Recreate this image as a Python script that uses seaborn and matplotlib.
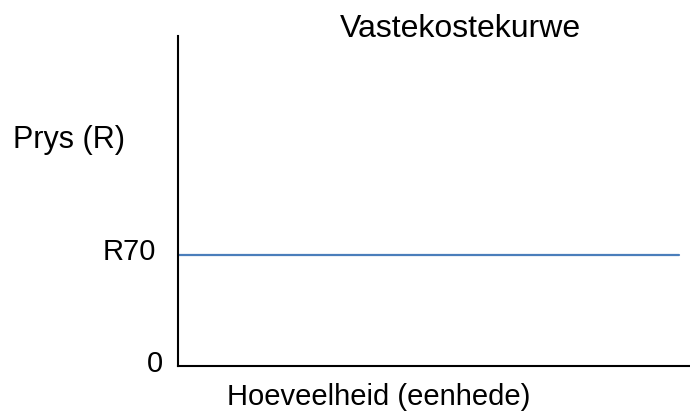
import matplotlib
matplotlib.use("Agg")
import matplotlib.pyplot as plt
import matplotlib.transforms as mtransforms
import seaborn as sns
import pandas as pd

# data
quantity = [0, 10]
fixed_cost = [70, 70]
ytick_vals = [0, 70]
ytick_labels = ["0", "R70"]
title = "Vastekostekurwe"
xlabel = "Hoeveelheid (eenhede)"
ylabel = "Prys (R)"

sns.set_style("white")
plt.rcParams['font.family'] = ['Liberation Sans', 'DejaVu Sans']
plt.rcParams['text.color'] = 'black'
plt.rcParams['ytick.color'] = 'black'

W, H = 690, 411
fig = plt.figure(figsize=(W / 100, H / 100), dpi=100)
ax = fig.add_axes([178 / W, (H - 366) / H, (W - 178) / W, (366 - 36) / H])

df = pd.DataFrame({"q": quantity, "c": fixed_cost})
sns.lineplot(data=df, x="q", y="c", ax=ax, color="#4a7ebb", linewidth=1.6)

ax.set_xlim(0, 10 / 0.9785)
ax.set_ylim(0, 208)
ax.set_xticks([])
ax.set_yticks(ytick_vals)
ax.set_yticklabels(ytick_labels, fontsize=21)
ax.tick_params(axis="y", length=0, pad=16, labelcolor="black")
ax.set_xlabel("")
ax.set_ylabel("")

for lab, dx in zip(ax.get_yticklabels(), [0.07, 0.0]):
    lab.set_transform(lab.get_transform() + mtransforms.ScaledTranslation(dx, 0.055, fig.dpi_scale_trans))

sns.despine(ax=ax)
for s in ["left", "bottom"]:
    ax.spines[s].set_color("black")
    ax.spines[s].set_linewidth(1.5)

fig.text(460 / W, (H - 37) / H, title, ha="center", va="baseline", fontsize=23)
fig.text(13 / W, (H - 148) / H, ylabel, ha="left", va="baseline", fontsize=22)
fig.text(227 / W, (H - 405) / H, xlabel, ha="left", va="baseline", fontsize=21)

fig.savefig("out.png", dpi=100)
